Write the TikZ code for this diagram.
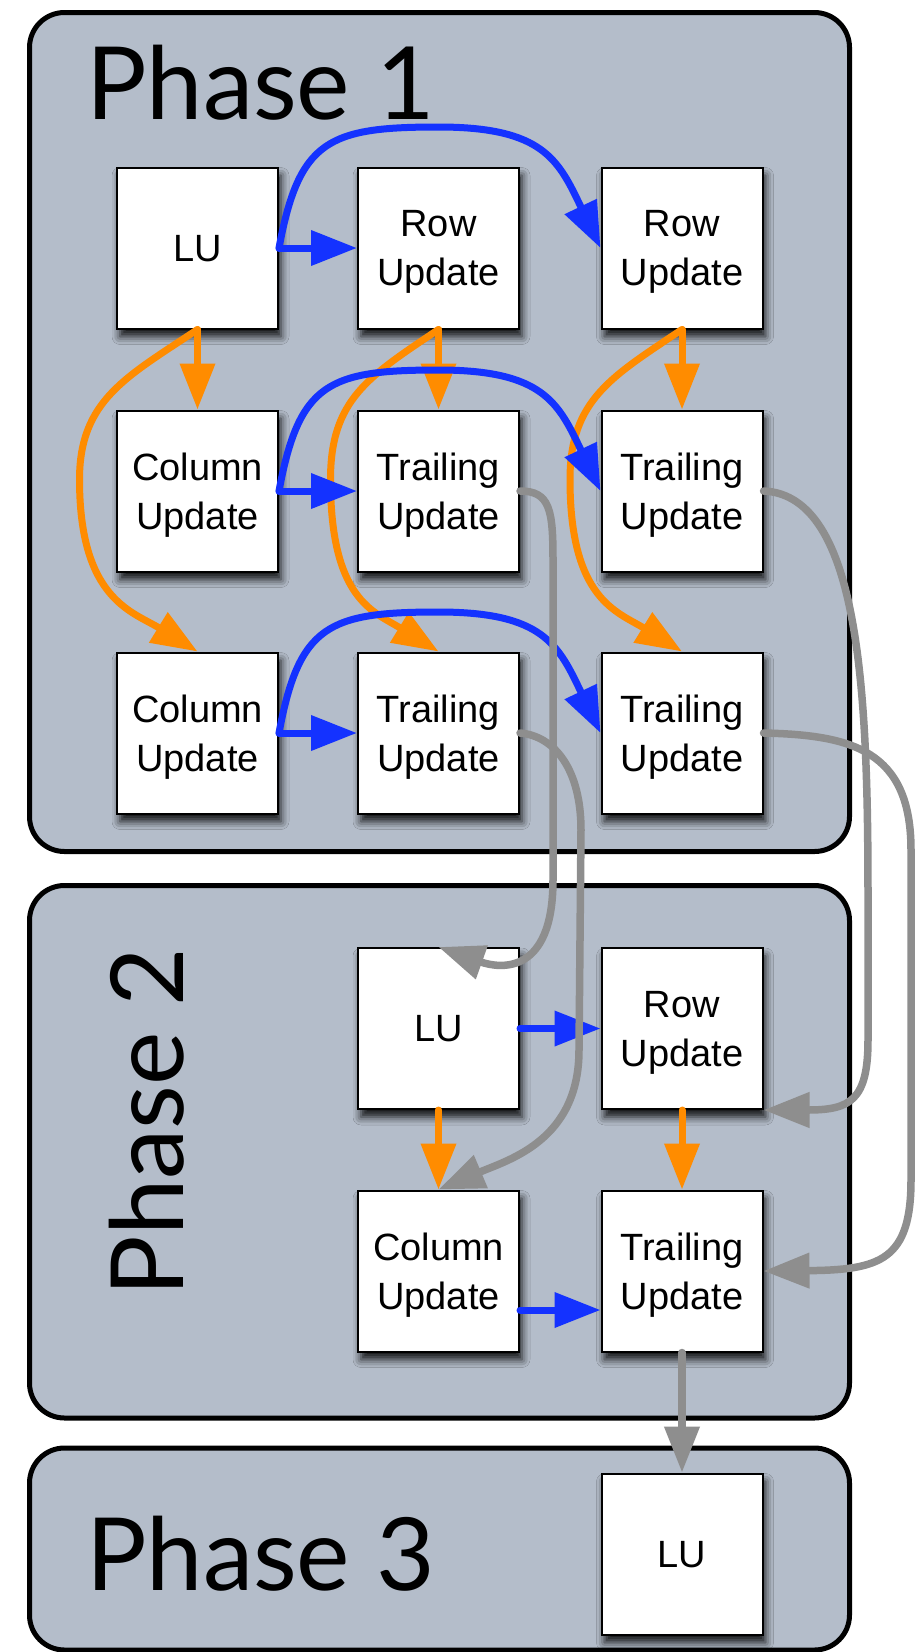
\documentclass[tikz,border=0pt]{standalone}
\usepackage{fontspec}
\setmainfont{Liberation Sans}
\newfontfamily\phasefont{Lato}
\usetikzlibrary{arrows.meta,calc,shadows.blur}

\definecolor{panelfill}{RGB}{180,189,202}
\definecolor{flowblue}{RGB}{20,50,255}
\definecolor{floworange}{RGB}{255,140,0}
\definecolor{flowgray}{RGB}{142,142,142}

\begin{document}
\begin{tikzpicture}[x=1pt,y=-1pt,
  panel/.style={draw=black,line width=5pt,fill=panelfill,rounded corners=35pt},
  phaselabel/.style={font=\phasefont\fontsize{101}{120}\selectfont,inner sep=0pt},
  task/.style={draw=black,line width=2pt,fill=white,minimum width=161pt,
    minimum height=161pt,inner sep=0pt,align=center,text depth=0pt,
    font=\fontsize{38}{49}\selectfont,
    blur shadow={shadow xshift=3pt,shadow yshift=-8pt,
      shadow blur radius=8pt,shadow opacity=90}},
  link/.style={line width=7pt,line cap=round,-{Triangle[length=46pt,width=34pt]}},
  rowdep/.style={link,draw=flowblue},
  coldep/.style={link,draw=floworange},
  phasedep/.style={link,draw=flowgray,line width=7.5pt},
]
\useasboundingbox (0,0) rectangle (916,1652);

% phase panels
\draw[panel] (29.5,12.5) rectangle (849.5,851.5);
\draw[panel] (29.5,885.5) rectangle (849.5,1418);
\draw[panel] (29.5,1448) rectangle (849.5,1650);

\node[phaselabel,anchor=base west] (p1) at (86,119) {Phase 1};
\node[phaselabel,anchor=base,rotate=90] (p2) at (183,1122) {Phase 2};
\node[phaselabel,anchor=base west] (p3) at (86,1590) {Phase 3};

% phase 1 tasks
\node[task] (a11) at (197.5,248) {LU};
\node[task] (a12) at (438.5,248) {Row\\Update};
\node[task] (a13) at (682,248) {Row\\Update};
\node[task] (a21) at (197.5,491) {Column\\Update};
\node[task] (a22) at (438.5,491) {Trailing\\Update};
\node[task] (a23) at (682,491) {Trailing\\Update};
\node[task] (a31) at (197.5,733) {Column\\Update};
\node[task] (a32) at (438.5,733) {Trailing\\Update};
\node[task] (a33) at (682,733) {Trailing\\Update};

% phase 2 tasks
\node[task] (b11) at (438.5,1028.5) {LU};
\node[task] (b12) at (682,1028.5) {Row\\Update};
\node[task] (b21) at (438.5,1271) {Column\\Update};
\node[task] (b22) at (682,1271) {Trailing\\Update};

% phase 3 task
\node[task] (c1) at (682,1554) {LU};

% column dependencies (orange)
\draw[coldep] (a11.south) -- (a21.north);
\draw[coldep] (a12.south) -- (a22.north);
\draw[coldep] (a13.south) -- (a23.north);
\draw[coldep] (a11.south) .. controls +(-70,47) and +(0,-80) .. ($(a11.south)+(-118,150)$)
  .. controls +(0,120) and +(-65,-40) .. (a31.north);
\draw[coldep] (a12.south) .. controls +(-70,47) and +(0,-80) .. ($(a12.south)+(-108,150)$)
  .. controls +(0,120) and +(-65,-40) .. (a32.north);
\draw[coldep] (a13.south) .. controls +(-70,47) and +(0,-80) .. ($(a13.south)+(-112,150)$)
  .. controls +(0,120) and +(-65,-40) .. (a33.north);
\draw[coldep] (b11.south) -- (b21.north);
\draw[coldep] (b12.south) -- (b22.north);

% row dependencies (blue)
\draw[rowdep] (a11.east) -- (a12.west);
\draw[rowdep] (a21.east) -- (a22.west);
\draw[rowdep] (a31.east) -- (a32.west);
\draw[rowdep] (a11.east) .. controls +(20,-108) and +(-110,0) .. ($(a12.center)+(0,-121)$)
  .. controls +(105,0) and +(-42,-88) .. (a13.west);
\draw[rowdep] (a21.east) .. controls +(20,-108) and +(-110,0) .. ($(a22.center)+(0,-121)$)
  .. controls +(105,0) and +(-42,-88) .. (a23.west);
\draw[rowdep] (a31.east) .. controls +(20,-108) and +(-110,0) .. ($(a32.center)+(0,-121)$)
  .. controls +(105,0) and +(-42,-88) .. (a33.west);
\draw[rowdep] (b11.east) -- (b12.west);
\draw[rowdep] ([yshift=-39pt]b21.east) -- ([yshift=-39pt]b22.west);

% dependencies between phases (gray)
\draw[phasedep] (a22.east) .. controls +(30,0) and +(0,-50) .. (553,560) -- (553,880)
  .. controls +(0,95) and +(62,22) .. (b11.north);
\draw[phasedep] (a32.east) .. controls +(35,3) and +(0,-60) .. (581,830) -- (579,1050)
  .. controls +(0,90) and +(71,-30) .. (b21.north);
\draw[phasedep] (a23.east) .. controls +(98,4) and +(0,-200) .. (868,900) -- (868,1040)
  .. controls +(0,60) and +(87,0) .. (b12.south east);
\draw[phasedep] (a33.east) .. controls +(88,2) and +(0,-100) .. (911,850) -- (911,1180)
  .. controls +(0,80) and +(117,-1) .. (b22.east);
\draw[phasedep] (b22.south) -- (c1.north);
\end{tikzpicture}
\end{document}
